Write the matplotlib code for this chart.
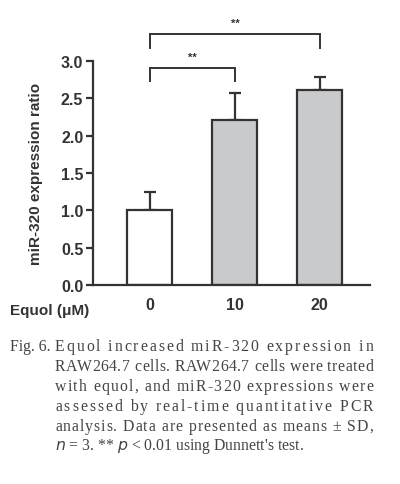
import matplotlib
matplotlib.use("Agg")
import matplotlib.pyplot as plt
from matplotlib.font_manager import FontProperties

categories = ["0", "10", "20"]
means = [1.0, 2.21, 2.61]
sds = [0.24, 0.36, 0.17]
colors = ["white", "#c9cacb", "#c9cacb"]
yticks = [0.0, 0.5, 1.0, 1.5, 2.0, 2.5, 3.0]

caption_lines = [
    "Equol increased miR-320 expression in",
    "RAW264.7 cells. RAW264.7 cells were treated",
    "with equol, and miR-320 expressions were",
    "assessed by real-time quantitative PCR",
    "analysis. Data are presented as means \u00b1 SD,",
]

plt.rcParams["font.family"] = ["Liberation Sans", "DejaVu Sans"]
dark = "#333333"
fig = plt.figure(figsize=(4.0, 4.85), dpi=100)
ax = fig.add_axes([0.2325, 1 - 286 / 485, 0.925 - 0.2325, (286 - 62) / 485])

x = list(range(len(categories)))
ax.bar(x, means, width=0.53, color=colors, edgecolor=dark, linewidth=1.6, zorder=2)
ax.errorbar(x, means, yerr=[[0, 0, 0], sds], fmt="none", ecolor=dark,
            elinewidth=1.6, capsize=4.3, capthick=1.6, zorder=1)

ax.set_xlim(-0.67, 2.59)
ax.set_ylim(0, 3.0)
ax.set_yticks(yticks)
ax.set_yticklabels([f"{v:.1f}" for v in yticks], fontweight="bold", fontsize=11.5, color=dark)
ax.set_xticks(x)
ax.set_xticklabels(categories, fontweight="bold", fontsize=11.5, color=dark)
ax.tick_params(axis="x", length=0, pad=9)
ax.tick_params(axis="y", length=5, width=1.6, color=dark, pad=2)
for s in ["top", "right"]:
    ax.spines[s].set_visible(False)
for s in ["left", "bottom"]:
    ax.spines[s].set_linewidth(1.6)
    ax.spines[s].set_color(dark)
ax.set_ylabel("miR-320 expression ratio", fontweight="bold", fontsize=11, color=dark, labelpad=13)

fig.text(10 / 400, 1 - 311 / 485, "Equol (\u03bcM)", fontweight="bold", fontsize=11,
         color=dark, va="center", ha="left")

def bracket(x0, x1, y, leg, label):
    ax.plot([x0, x0, x1, x1], [y - leg, y, y, y - leg], color=dark, lw=1.4,
            clip_on=False, solid_joinstyle="miter")
    ax.text((x0 + x1) / 2, y + 0.08, label, ha="center", va="bottom",
            fontsize=8, fontweight="bold", color=dark, clip_on=False)

bracket(0, 1, 2.905, 0.175, "**")
bracket(0, 2, 3.36, 0.19, "**")

# caption (justified with letter spacing)
cap_color = "#444444"
serif = ["Liberation Serif", "DejaVu Serif"]
fs = 11.3
W, H = 400, 485
prop = FontProperties(family=serif, size=fs)
fig.text(10 / W, 1 - 347 / H, "Fig. 6.", fontproperties=prop, color=cap_color, va="center")
renderer = fig.canvas.get_renderer()

def tw(s):
    w, h, d = renderer.get_text_width_height_descent(s, prop, ismath=False)
    return w

x_left, x_right = 55, 373
ys = [347, 367, 387, 407, 427]
for ln, yy in zip(caption_lines, ys):
    natural = tw(ln)
    n = len(ln)
    extra = (x_right - x_left - natural) / (n - 1)
    for i, ch in enumerate(ln):
        if ch == " ":
            continue
        left = tw(ln[:i + 1]) - tw(ch)
        fig.text((x_left + left + i * extra) / W, 1 - yy / H, ch, fontproperties=prop,
                 color=cap_color, va="center")
fig.text(x_left / W, 1 - 447 / H, r"$n$ = 3. ** $p$ < 0.01 using Dunnett's test.",
         fontproperties=prop, color=cap_color, va="center")

fig.savefig("out.png", dpi=100, facecolor="white")
